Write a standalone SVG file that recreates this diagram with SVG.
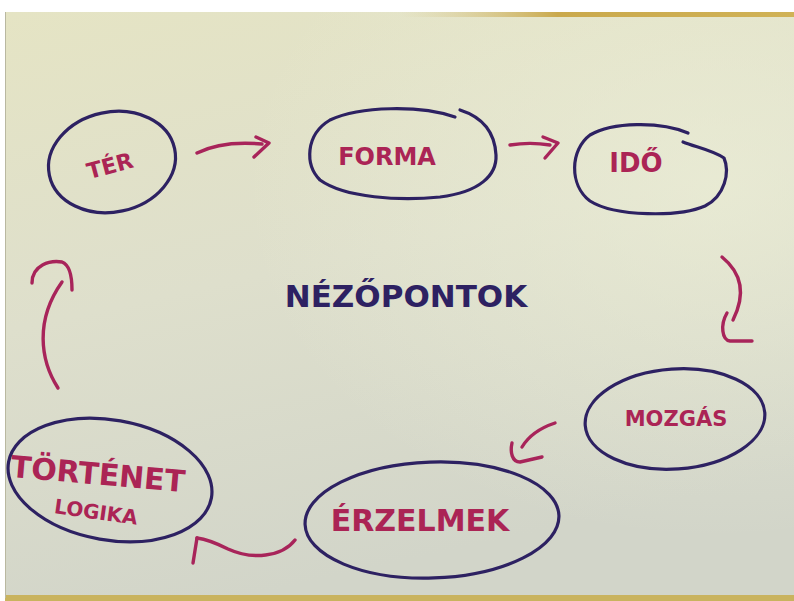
<svg xmlns="http://www.w3.org/2000/svg" width="794" height="601" viewBox="0 0 794 601">
  <defs>
    <linearGradient id="paper" x1="0" y1="0" x2="0.3" y2="1">
      <stop offset="0" stop-color="#e5e4c4"/>
      <stop offset="0.5" stop-color="#dedfcc"/>
      <stop offset="1" stop-color="#d2d5c9"/>
    </linearGradient>
    <radialGradient id="glow" cx="0.9" cy="0.3" r="0.6">
      <stop offset="0" stop-color="#eff1d8" stop-opacity="0.6"/>
      <stop offset="1" stop-color="#eff1d8" stop-opacity="0"/>
    </radialGradient>
    <linearGradient id="strip" x1="0" y1="0" x2="1" y2="0">
      <stop offset="0" stop-color="#d8c78a" stop-opacity="0"/>
      <stop offset="0.4" stop-color="#caa94c"/>
      <stop offset="1" stop-color="#d0b256"/>
    </linearGradient>
  </defs>
  <style>
    .ring { fill: none; stroke: #2d2162; stroke-width: 3.2; stroke-linecap: round; }
    .arrow { fill: none; stroke: #a8245a; stroke-width: 3.4; stroke-linecap: round; stroke-linejoin: round; }
    .lbl { fill: #ab2455; font-family: "DejaVu Sans", "Liberation Sans", sans-serif; font-weight: bold; text-anchor: middle; dominant-baseline: central; }
    .title { fill: #2d2162; font-family: "DejaVu Sans", "Liberation Sans", sans-serif; font-weight: bold; text-anchor: middle; dominant-baseline: central; }
  </style>

  <!-- background / paper -->
  <rect x="0" y="0" width="794" height="601" fill="#ffffff"/>
  <rect x="5" y="12" width="789" height="586" fill="url(#paper)"/>
  <rect x="5" y="12" width="789" height="586" fill="url(#glow)"/>
  <rect x="400" y="12" width="394" height="5" fill="url(#strip)"/>
  <rect x="5" y="595" width="789" height="6" fill="#c9b35e"/>
  <line x1="5.5" y1="12" x2="5.5" y2="598" stroke="#b9b8a0" stroke-width="1"/>

  <!-- nodes -->
  <g id="node-ter">
    <ellipse class="ring" cx="112" cy="162" rx="64" ry="50" transform="rotate(-12 112 162)"/>
    <text class="lbl" x="110" y="166" font-size="22" transform="rotate(-15 110 166)">TÉR</text>
  </g>
  <g id="node-forma">
    <path class="ring" d="M455,117 C420,105 360,106 330,120 C305,135 305,165 320,180 C345,198 400,201 440,197 C480,192 497,175 496,155 C495,135 485,118 460,110"/>
    <text class="lbl" x="387" y="157" font-size="24">FORMA</text>
  </g>
  <g id="node-ido">
    <path class="ring" d="M688,133 C660,121 612,122 590,135 C570,150 569,185 590,201 C615,217 680,217 705,206 C725,196 730,172 724,158 C712,150 695,147 683,142"/>
    <text class="lbl" x="636" y="163" font-size="26">IDŐ</text>
  </g>
  <g id="node-mozgas">
    <ellipse class="ring" cx="675" cy="419" rx="90" ry="50" transform="rotate(-4 675 419)"/>
    <text class="lbl" x="676" y="419" font-size="21">MOZGÁS</text>
  </g>
  <g id="node-erzelmek">
    <ellipse class="ring" cx="432" cy="520" rx="127" ry="58" transform="rotate(-2 432 520)"/>
    <text class="lbl" x="420" y="520" font-size="30">ÉRZELMEK</text>
  </g>
  <g id="node-tortenet">
    <ellipse class="ring" cx="110" cy="480" rx="103" ry="60" transform="rotate(10 110 480)"/>
    <text class="lbl" x="98" y="474" font-size="30" font-weight="normal" transform="rotate(5 98 474)">TÖRTÉNET</text>
    <text class="lbl" x="96" y="512" font-size="20" transform="rotate(8 96 512)">LOGIKA</text>
  </g>
  <g id="title">
    <text class="title" x="406" y="296" font-size="31">NÉZŐPONTOK</text>
  </g>

  <!-- connectors -->
  <g id="connectors">
    <path class="arrow" d="M197,153 C215,144 240,142 262,144"/>
    <path class="arrow" d="M256,137 L269,143 L254,157"/>
    <path class="arrow" d="M510,145 C522,143 538,143 550,145"/>
    <path class="arrow" d="M543,137 L558,143 L545,158"/>
    <path class="arrow" d="M722,257 C738,270 748,290 733,320"/>
    <path class="arrow" d="M727,313 C720,325 722,340 730,341 L752,341"/>
    <path class="arrow" d="M555,423 C540,428 528,437 522,447"/>
    <path class="arrow" d="M512,443 C510,452 512,462 520,462 L542,457"/>
    <path class="arrow" d="M295,540 C282,557 252,560 228,549 C214,542 205,539 197,538"/>
    <path class="arrow" d="M197,538 L193,563"/>
    <path class="arrow" d="M58,388 C40,360 35,320 62,282"/>
    <path class="arrow" d="M32,283 C32,265 50,260 62,262 C70,265 72,278 72,290"/>
  </g>
</svg>
